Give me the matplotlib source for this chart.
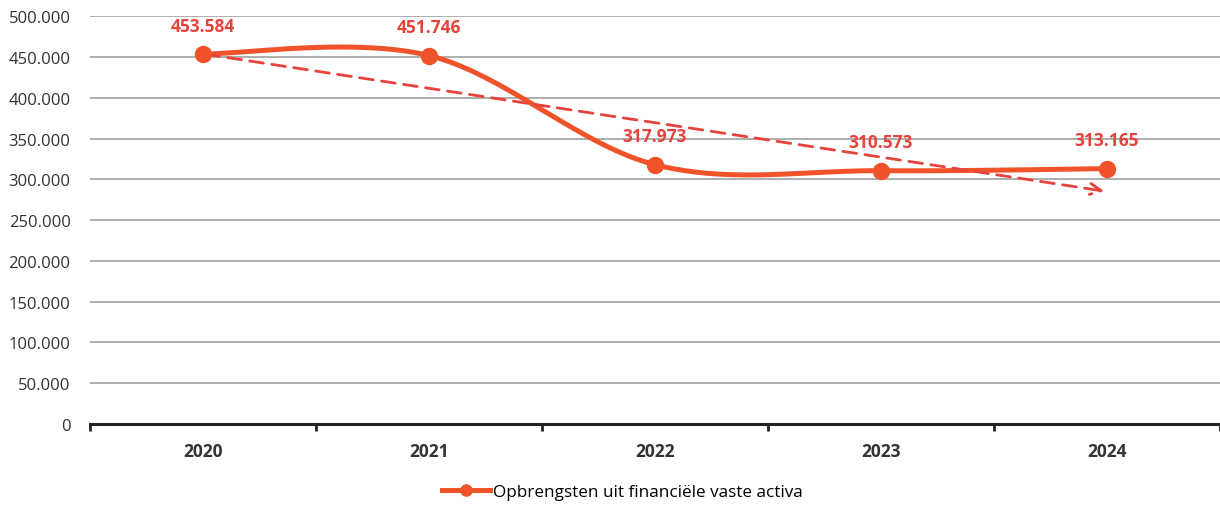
import numpy as np
import matplotlib
matplotlib.use('Agg')
from matplotlib import pyplot as plt
from matplotlib.ticker import FuncFormatter

years = ['2020', '2021', '2022', '2023', '2024']
values = [453584, 451746, 317973, 310573, 313165]
series_name = 'Opbrengsten uit financiële vaste activa'

plt.rcParams['font.family'] = ['Open Sans', 'DejaVu Sans']

def nl(v, pos=None):
    return '{:,.0f}'.format(v).replace(',', '.')

# excel-like smoothed line (catmull-rom through the points)
def smooth(x, y, n=40):
    x = np.asarray(x, float); y = np.asarray(y, float)
    px = np.concatenate([[x[0]], x, [x[-1]]])
    py = np.concatenate([[y[0]], y, [y[-1]]])
    sx, sy = [], []
    for i in range(1, len(px) - 2):
        p0, p1, p2, p3 = [np.array([px[j], py[j]]) for j in (i-1, i, i+1, i+2)]
        c1 = p1 + (p2 - p0) / 6
        c2 = p2 - (p3 - p1) / 6
        t = np.linspace(0, 1, n)[:, None]
        b = (1-t)**3*p1 + 3*(1-t)**2*t*c1 + 3*(1-t)*t**2*c2 + t**3*p2
        sx.extend(b[:, 0]); sy.extend(b[:, 1])
    return np.array(sx), np.array(sy)

x = np.arange(len(years))
fig = plt.figure(figsize=(12.2, 5.06), dpi=100)
ax = fig.add_axes([0.0738, 0.160, 0.9262, 0.806])

line_col = '#f0522a'
lab_col = '#e5433b'

sx, sy = smooth(x, values)
ax.plot(sx, sy, color=line_col, lw=3.6, zorder=3)
ax.plot(x, values, 'o', color=line_col, ms=11.5, zorder=4)

# linear trendline
k, b0 = np.polyfit(x, values, 1)
ax.annotate('', xy=(x[-1], k*x[-1]+b0), xytext=(x[0], k*x[0]+b0),
            arrowprops=dict(arrowstyle='->,head_length=0.8,head_width=0.4',
                            color=lab_col, lw=2, linestyle=(0, (5, 3))),
            zorder=3)

for xi, v in zip(x, values):
    ax.annotate(nl(v), (xi, v), xytext=(0, 14), textcoords='offset points',
                ha='center', va='bottom', color=lab_col, fontsize=12.5,
                fontweight='bold', zorder=5)

ax.set_xlim(-0.5, len(years) - 0.5)
ax.set_ylim(0, 500000)
ax.set_yticks(np.arange(0, 500001, 50000))
ax.yaxis.set_major_formatter(FuncFormatter(nl))
ax.grid(axis='y', color='#a0a0a0', lw=1.2)
ax.set_axisbelow(True)
for s in ['top', 'right', 'left']:
    ax.spines[s].set_visible(False)
ax.spines['bottom'].set_linewidth(2.2)
ax.spines['bottom'].set_color('#222222')
ax.tick_params(axis='y', length=0, labelsize=12, labelcolor='#333333', pad=14)
ax.set_xticks(x)
ax.set_xticklabels(years, fontweight='bold', fontsize=12.5, color='#333333')
ax.tick_params(axis='x', length=0, pad=13)
ax.set_xticks(np.arange(-0.5, len(years)), minor=True)
ax.tick_params(axis='x', which='minor', length=5, width=2, color='#222222')

h, = ax.plot([], [], '-o', color=line_col, lw=3.6, ms=8)
fig.legend([h], [series_name], loc='center', bbox_to_anchor=(0.51, 0.026),
           frameon=False, fontsize=12.3, handlelength=2.8, handletextpad=0.2)

fig.savefig('out.png', dpi=100)
